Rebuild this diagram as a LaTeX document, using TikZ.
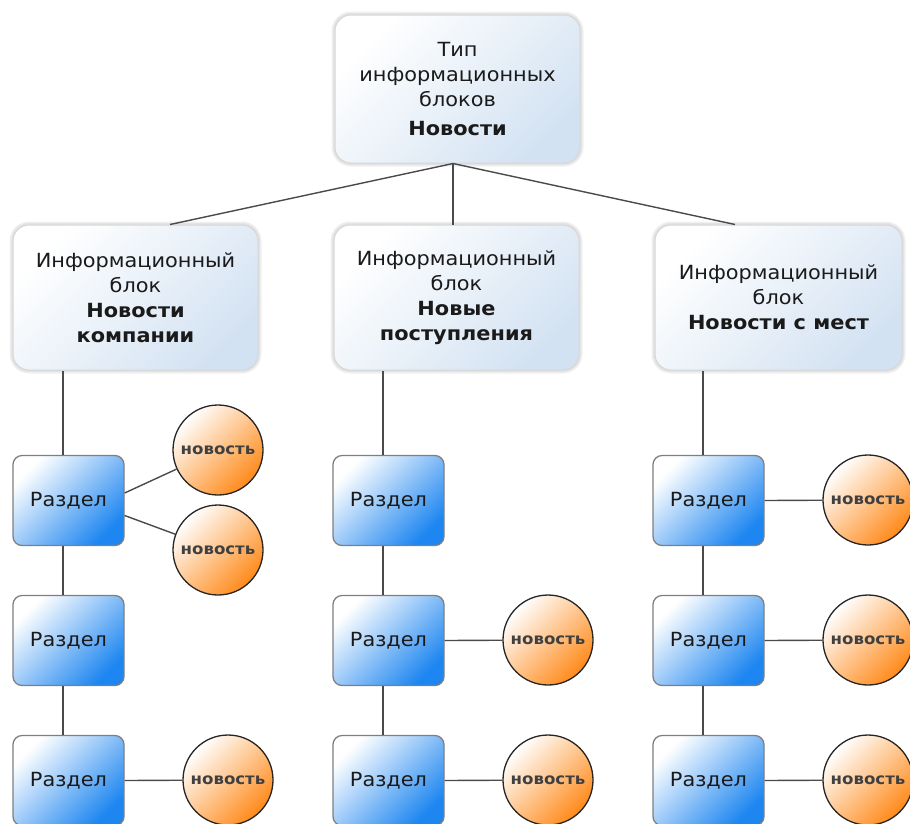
\documentclass[tikz,border=0pt]{standalone}
\usepackage{fontspec}
\setmainfont[FakeStretch=1.07]{DejaVu Sans}
\usetikzlibrary{calc}
\definecolor{lineC}{HTML}{4A4A4A}
\definecolor{blockB}{HTML}{D3E2F2}
\definecolor{secB}{HTML}{1E86F0}
\definecolor{secBorder}{HTML}{7F7F7F}
\definecolor{newsO}{HTML}{FF8A1A}
\definecolor{txt}{HTML}{1A1A1A}
\begin{document}
\begin{tikzpicture}[x=1pt,y=-1pt,
  blockbox/.style={rounded corners=16pt, minimum width=245pt, minimum height=145pt,
    inner sep=0pt, align=center, top color=white, bottom color=blockB, shading angle=45,
    draw=black!16, line width=1pt,
    preaction={draw=black!6, line width=7pt},
    preaction={draw=black!11, line width=4pt},
    font=\fontsize{19.5}{25}\selectfont, text=txt},
  sectionbox/.style={rounded corners=9pt, minimum width=111pt, minimum height=90pt,
    inner sep=0pt, draw=secBorder, line width=1.3pt, top color=white, bottom color=secB,
    shading angle=45, font=\fontsize{19.5}{23}\selectfont, text=txt},
  newsnode/.style={circle, minimum size=90pt, inner sep=0pt, draw=black!85, line width=1.3pt,
    top color=white, bottom color=newsO, shading angle=45,
    font=\bfseries\fontsize{15.5}{18}\selectfont, text=black!75},
  conn/.style={draw=lineC, line width=1.4pt}]
\useasboundingbox (0,0) rectangle (910,823);

% top and block boxes
\node[blockbox, minimum height=148pt] (top) at (457.5,89) {Тип\\информационных\\блоков\\[4pt]\textbf{Новости}};
\node[blockbox] (b1) at (135.5,297.5) {Информационный\\блок\\\textbf{Новости}\\\textbf{компании}};
\node[blockbox] (b2) at (456.5,297.5) {Информационный\\блок\\\textbf{Новые}\\\textbf{поступления}};
\node[blockbox, minimum width=247pt] (b3) at (778.5,297.5) {Информационный\\блок\\\textbf{Новости с мест}};

% sections
\node[sectionbox] (s11) at (68.5,500.5) {Раздел};
\node[sectionbox] (s12) at (68.5,640.5) {Раздел};
\node[sectionbox] (s13) at (68.5,780.5) {Раздел};
\node[sectionbox] (s21) at (388.5,500.5) {Раздел};
\node[sectionbox] (s22) at (388.5,640.5) {Раздел};
\node[sectionbox] (s23) at (388.5,780.5) {Раздел};
\node[sectionbox] (s31) at (708.5,500.5) {Раздел};
\node[sectionbox] (s32) at (708.5,640.5) {Раздел};
\node[sectionbox] (s33) at (708.5,780.5) {Раздел};

% news
\node[newsnode] (n1a) at (218,450) {новость};
\node[newsnode] (n1b) at (218,550) {новость};
\node[newsnode] (n13) at (228,780) {новость};
\node[newsnode] (n22) at (548,640) {новость};
\node[newsnode] (n23) at (548,780) {новость};
\node[newsnode] (n31) at (868,500) {новость};
\node[newsnode] (n32) at (868,640) {новость};
\node[newsnode] (n33) at (868,780) {новость};

% connectors from the top box
\coordinate (apex) at ($(top.south)+(-4.5,0)$);
\draw[conn] (apex) -- ($(b1.north)+(34.5,0)$);
\draw[conn] (apex) -- ($(b2.north)+(-3.5,0)$);
\draw[conn] (apex) -- ($(b3.north)+(-43.5,0)$);

% vertical connectors
\draw[conn] ($(b1.south)+(-72.5,0)$) -- ($(s11.north)+(-5.5,0)$);
\draw[conn] ($(s11.south)+(-5.5,0)$) -- ($(s12.north)+(-5.5,0)$);
\draw[conn] ($(s12.south)+(-5.5,0)$) -- ($(s13.north)+(-5.5,0)$);
\draw[conn] ($(b2.south)+(-73.5,0)$) -- ($(s21.north)+(-5.5,0)$);
\draw[conn] ($(s21.south)+(-5.5,0)$) -- ($(s22.north)+(-5.5,0)$);
\draw[conn] ($(s22.south)+(-5.5,0)$) -- ($(s23.north)+(-5.5,0)$);
\draw[conn] ($(b3.south)+(-75.5,0)$) -- ($(s31.north)+(-5.5,0)$);
\draw[conn] ($(s31.south)+(-5.5,0)$) -- ($(s32.north)+(-5.5,0)$);
\draw[conn] ($(s32.south)+(-5.5,0)$) -- ($(s33.north)+(-5.5,0)$);

% section to news
\draw[conn] ($(s11.east)+(0,-7.5)$) -- (n1a);
\draw[conn] ($(s11.east)+(0,15)$) -- (n1b);
\draw[conn] (s13.east) -- (n13);
\draw[conn] (s22.east) -- (n22);
\draw[conn] (s23.east) -- (n23);
\draw[conn] (s31.east) -- (n31);
\draw[conn] (s32.east) -- (n32);
\draw[conn] (s33.east) -- (n33);
\end{tikzpicture}
\end{document}
